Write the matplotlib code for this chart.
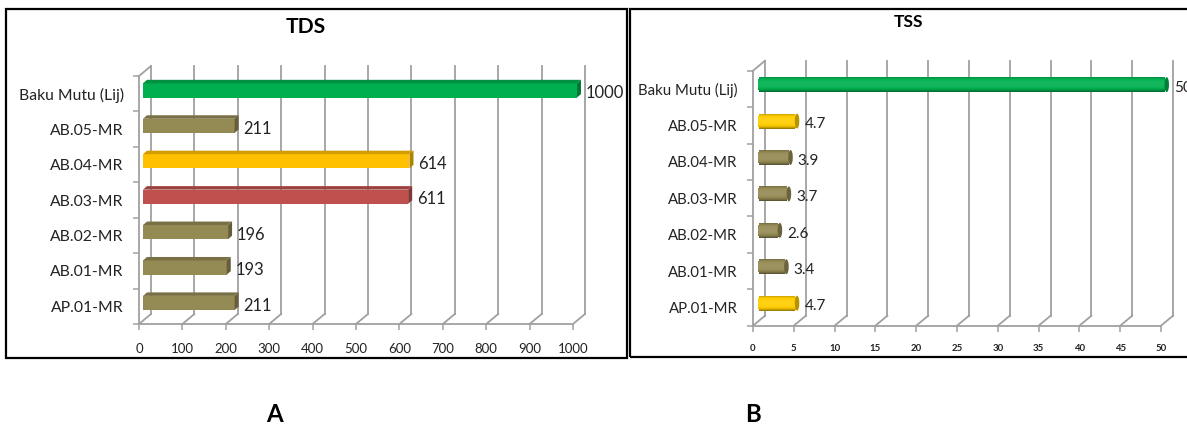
import matplotlib
matplotlib.use("Agg")
import matplotlib.pyplot as plt
from matplotlib.patches import Rectangle, Polygon, Ellipse
from matplotlib.transforms import Affine2D
import numpy as np

plt.rcParams["font.family"] = ["Lato", "DejaVu Sans"]

W, H = 1187, 426
PT = 0.72  # px -> pt at dpi 100
GRAY = "#A0A0A0"

categories = ["AP.01-MR", "AB.01-MR", "AB.02-MR", "AB.03-MR", "AB.04-MR", "AB.05-MR", "Baku Mutu (Lij)"]
tds_values = [211, 193, 196, 611, 614, 211, 1000]
tss_values = [4.7, 3.4, 2.6, 3.7, 3.9, 4.7, 50]
tds_ticks = list(range(0, 1001, 100))
tss_ticks = list(range(0, 51, 5))
tds_colors = ["#948A54", "#948A54", "#948A54", "#C0504D", "#FFC000", "#948A54", "#00B050"]
tss_colors = ["#FFCC00", "#948A54", "#948A54", "#948A54", "#948A54", "#FFCC00", "#00B050"]

fig = plt.figure(figsize=(W / 100, H / 100), dpi=100)
fig.patch.set_facecolor("white")


def make_axes(left, right, top, bottom, xmax, ticks, tick_size, tick_pad, cat_size):
    ax = fig.add_axes([left / W, 1 - bottom / H, (right - left) / W, (bottom - top) / H])
    ax.set_xlim(0, xmax)
    ax.set_ylim(-0.5, 6.5)
    ax.patch.set_visible(False)
    for side in ["top", "right"]:
        ax.spines[side].set_visible(False)
    for side in ["left", "bottom"]:
        ax.spines[side].set_color(GRAY)
        ax.spines[side].set_linewidth(1.3)
    ax.set_xticks(ticks)
    ax.tick_params(axis="x", length=4, width=1.1, color=GRAY, labelsize=tick_size * PT,
                   pad=tick_pad, labelcolor="#222222")
    ax.set_yticks(range(7))
    ax.set_yticklabels(categories)
    ax.set_yticks(np.arange(-0.5, 7), minor=True)
    ax.tick_params(axis="y", which="major", length=0, labelsize=cat_size * PT, pad=11, labelcolor="#222222")
    ax.tick_params(axis="y", which="minor", length=4, width=1.1, color=GRAY)

    # back wall
    back = Affine2D().translate(12, 10)
    for t in ticks:
        ax.plot([t, t], [-0.5, 6.5], color=GRAY, lw=1.3, clip_on=False,
                transform=ax.transData + back, zorder=1)
        p0 = ax.transData.transform((t, -0.5))
        ax.plot([p0[0], p0[0] + 12], [p0[1], p0[1] + 10], color=GRAY, lw=1.3,
                transform=None, clip_on=False, zorder=1)
    p0 = ax.transData.transform((0, 6.5))
    ax.plot([p0[0], p0[0] + 12], [p0[1], p0[1] + 10], color=GRAY, lw=1.3,
            transform=None, clip_on=False, zorder=1)
    return ax


def shade(color, f):
    rgb = np.array(matplotlib.colors.to_rgb(color))
    return tuple(rgb * f) if f <= 1 else tuple(rgb + (1 - rgb) * (f - 1))


def box_bars(ax, values, colors, label_dx):
    shift = Affine2D().translate(4, 3.3)
    for i, (v, c) in enumerate(zip(values, colors)):
        ax.barh(i, v, height=0.4, color=c, transform=ax.transData + shift, clip_on=False, zorder=3)
        x1, y1 = ax.transData.transform((v, i + 0.2)) + (4, 3.3)
        x0, y0 = ax.transData.transform((0, i + 0.2)) + (4, 3.3)
        yb = ax.transData.transform((v, i - 0.2))[1] + 3.3
        d = 4
        ax.add_patch(Polygon([(x0, y0), (x1, y1), (x1 + d, y1 + 3.5), (x0 + d, y0 + 3.5)],
                             closed=True, fc=shade(c, 0.82), ec="none", transform=None, zorder=3, clip_on=False))
        ax.add_patch(Polygon([(x1, y1), (x1 + d, y1 + 3.5), (x1 + d, yb + 3.5), (x1, yb)],
                             closed=True, fc=shade(c, 0.68), ec="none", transform=None, zorder=3, clip_on=False))
        ax.annotate(str(v), (v, i), xytext=(label_dx, 0.5), textcoords="offset pixels", ha="left", va="center",
                    fontsize=16.5 * PT, color="#222222", annotation_clip=False, zorder=5)


def tube_bars(ax, values, colors, label_dx):
    shift = Affine2D().translate(5, 4.3)
    n = 15
    rx = 3.5 / abs(ax.transData.transform((1, 0))[0] - ax.transData.transform((0, 0))[0])
    edges = np.linspace(-0.205, 0.205, n + 1)
    for i, (v, c) in enumerate(zip(values, colors)):
        for k in range(n):
            t = (edges[k] + edges[k + 1]) / 2 / 0.205
            # lit through the middle, dark along the edges
            f = 1.08 - 0.42 * abs(t - 0.1) ** 3
            round_off = rx * (1 - np.sqrt(1 - t * t))
            ax.barh(i + edges[k], v - round_off, height=edges[k + 1] - edges[k], left=round_off * 0.5, align="edge",
                    color=shade(c, f), transform=ax.transData + shift, clip_on=False, zorder=3, lw=0)
        ax.add_patch(Ellipse((v + rx * 0.2, i), rx * 1.3, 0.41, fc=shade(c, 0.72), ec="none",
                             transform=ax.transData + shift, zorder=4, clip_on=False))
        ax.annotate(str(v), (v, i), xytext=(label_dx, 1), textcoords="offset pixels", ha="left", va="center",
                    fontsize=15.3 * PT, color="#222222", annotation_clip=False, zorder=5)


# panel A
ax_a = make_axes(139, 573, 76, 324, 1000, tds_ticks, 13.2, 10, 15.8)
box_bars(ax_a, tds_values, tds_colors, 13)

# panel B
ax_b = make_axes(753, 1161, 70.7, 325.7, 50, tss_ticks, 9.6, 9, 15)
tube_bars(ax_b, tss_values, tss_colors, 13)
for lab in ax_b.get_xticklabels():
    lab.set_fontweight("bold")

# frames
for x0, x1, y0, y1 in [(6, 627, 9, 358), (630, 1192, 9, 357)]:
    fig.add_artist(Rectangle((x0 / W, 1 - y1 / H), (x1 - x0) / W, (y1 - y0) / H, transform=fig.transFigure,
                             fill=False, ec="black", lw=1.6))

fig.text(306 / W, 1 - 27 / H, "TDS", fontsize=21 * PT, fontweight="bold", ha="center", va="center")
fig.text(908 / W, 1 - 22 / H, "TSS", fontsize=17.5 * PT, fontweight="bold", ha="center", va="center")
fig.text(274 / W, 1 - 414 / H, "A", fontsize=24 * PT, fontweight="bold", ha="center", va="center")
fig.text(753 / W, 1 - 415 / H, "B", fontsize=24 * PT, fontweight="bold", ha="center", va="center")

fig.savefig("out.png", dpi=100)
